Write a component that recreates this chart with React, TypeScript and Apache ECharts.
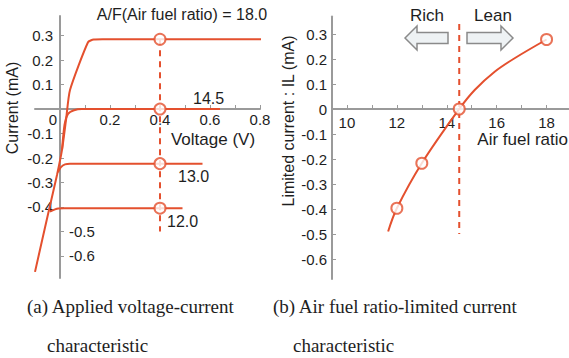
import React, { useEffect, useRef } from "react";
import * as echarts from "echarts";

// ---------- data ----------
// (a) applied voltage - current characteristic, one curve per A/F
const afValues = ["18.0", "14.5", "13.0", "12.0"];
const curveAF180: [number, number][] = [[-0.1, -0.665], [-0.045, -0.416], [-0.012, -0.269], [0.008, -0.167], [0.024, -0.045], [0.04, 0.078], [0.112, 0.273], [0.135, 0.284], [0.17, 0.285], [0.4, 0.285], [0.82, 0.285]];
const curveAF145: [number, number][] = [[0.008, -0.167], [0.018, -0.065], [0.032, -0.02], [0.056, -0.005], [0.088, 0], [0.4, 0], [0.64, 0]];
const curveAF130: [number, number][] = [[-0.008, -0.258], [0.004, -0.237], [0.02, -0.226], [0.04, -0.223], [0.4, -0.223], [0.57, -0.223]];
const curveAF120: [number, number][] = [[-0.04, -0.419], [-0.02, -0.41], [-0.007, -0.406], [0.016, -0.405], [0.4, -0.405], [0.49, -0.405]];
const appliedVoltage = 0.4;
const markerCurrents = [0.285, 0, -0.223, -0.405];
const voltDashRange = [0.285, -0.5];

// (b) air fuel ratio - limited current characteristic
const afCurve: [number, number][] = [[11.65, -0.49], [12, -0.397], [13, -0.217], [14.5, 0], [15.12, 0.076], [15.92, 0.149], [16.72, 0.203], [18, 0.278]];
const afMarkers: [number, number][] = [[12, -0.397], [13, -0.217], [14.5, 0], [18, 0.278]];
const stoichAF = 14.5;
const afDashRange = [0.34, -0.5];

// ticks and labels
const voltTicks = [0.1, 0.2, 0.3, 0.4, 0.5, 0.6, 0.7, 0.8];
const voltLabels = [0, 0.2, 0.4, 0.6, 0.8];
const currTicks = [0.3, 0.2, 0.1, -0.1, -0.2, -0.3, -0.4, -0.5, -0.6];
const currLabelsOut = [0.3, 0.2, 0.1, -0.1, -0.2, -0.3, -0.4];
const currLabelsIn = [-0.5, -0.6];
const afTicks = [10, 11, 12, 13, 14, 15, 16, 17, 18];
const afLabels = [10, 12, 14, 16, 18];
const currLabelsRight = [0.3, 0.2, 0.1, 0, -0.1, -0.2, -0.3, -0.4, -0.5, -0.6];

// ---------- styles ----------
const RED = "#e4502e";
const AXIS = "#9a9a9a";
const TXT = "#1e1e1e";
const SANS = "'Liberation Sans', Arial, sans-serif";
const SERIF = "'Liberation Serif', 'Times New Roman', serif";

const lineSeries = (data: [number, number][], xi: number, yi: number, smooth = 0.2) => ({
  type: "line",
  xAxisIndex: xi,
  yAxisIndex: yi,
  data,
  smooth,
  showSymbol: false,
  symbol: "none",
  clip: false,
  lineStyle: { color: RED, width: 2 },
  silent: true,
});

const markerSeries = (data: [number, number][], xi: number, yi: number) => ({
  type: "scatter",
  xAxisIndex: xi,
  yAxisIndex: yi,
  data,
  symbol: "circle",
  symbolSize: 11,
  itemStyle: { color: "#fff", borderColor: RED, borderWidth: 2 },
  z: 5,
  silent: true,
});

const dashSeries = (data: [number, number][], xi: number, yi: number) => ({
  type: "line",
  xAxisIndex: xi,
  yAxisIndex: yi,
  data,
  showSymbol: false,
  symbol: "none",
  clip: false,
  lineStyle: { color: RED, width: 2, type: [6, 5] },
  z: 1,
  silent: true,
});

const tickLabel = { color: TXT, fontSize: 15, fontFamily: SANS };

const text = (t: string, x: number, y: number, opts: any = {}) => ({
  type: "text",
  x,
  y,
  rotation: opts.rotation || 0,
  style: {
    text: t,
    fill: TXT,
    font: opts.font || `16px ${SANS}`,
    align: opts.align || "center",
    verticalAlign: "middle",
  },
  silent: true,
});

export default function App() {
  const ref = useRef<HTMLDivElement>(null);
  useEffect(() => {
    if (!ref.current) return;
    const chart = echarts.init(ref.current, undefined, { renderer: "svg" });

    const markersLeft: [number, number][] = markerCurrents.map((c) => [appliedVoltage, c]);

    const option: any = {
      animation: false,
      backgroundColor: "#fff",
      grid: [
        { left: 35, top: 16, width: 225, height: 262 },
        { left: 332, top: 16.5, width: 237.5, height: 262.5 },
      ],
      xAxis: [
        {
          type: "value",
          gridIndex: 0,
          min: -0.1,
          max: 0.8,
          position: "bottom",
          offset: -169,
          axisLine: { onZero: false, lineStyle: { color: AXIS, width: 2 } },
          axisTick: { show: true, inside: true, length: 4, customValues: voltTicks, lineStyle: { color: AXIS } },
          axisLabel: {
            ...tickLabel,
            margin: 3,
            customValues: voltLabels,
            formatter: (v: number) => (v === 0 ? "{z|0}" : String(v)),
            rich: { z: { ...tickLabel, padding: [0, 14, 0, 0] } },
          },
          splitLine: { show: false },
        },
        {
          type: "value",
          gridIndex: 1,
          min: 9.4,
          max: 18.9,
          position: "bottom",
          offset: -170,
          axisLine: { onZero: false, lineStyle: { color: AXIS, width: 2 } },
          axisTick: { show: true, inside: true, length: 4, customValues: afTicks, lineStyle: { color: AXIS } },
          axisLabel: { ...tickLabel, margin: 6, customValues: afLabels },
          splitLine: { show: false },
        },
      ],
      yAxis: [
        {
          type: "value",
          gridIndex: 0,
          min: -0.69,
          max: 0.38,
          position: "left",
          offset: -25,
          axisLine: { onZero: false, lineStyle: { color: AXIS, width: 2 } },
          axisTick: { show: true, inside: true, length: 4, customValues: currTicks, lineStyle: { color: AXIS } },
          axisLabel: { ...tickLabel, margin: 7, customValues: currLabelsOut },
          splitLine: { show: false },
        },
        {
          type: "value",
          gridIndex: 0,
          min: -0.69,
          max: 0.38,
          position: "left",
          offset: -25,
          axisLine: { show: false, onZero: false },
          axisTick: { show: false },
          axisLabel: { ...tickLabel, inside: true, margin: 9, customValues: currLabelsIn },
          splitLine: { show: false },
        },
        {
          type: "value",
          gridIndex: 1,
          min: -0.68,
          max: 0.37,
          position: "left",
          axisLine: { onZero: false, lineStyle: { color: AXIS, width: 2 } },
          axisTick: { show: true, inside: true, length: 4, customValues: currTicks, lineStyle: { color: AXIS } },
          axisLabel: { ...tickLabel, margin: 5, customValues: currLabelsRight },
          splitLine: { show: false },
        },
      ],
      series: [
        lineSeries(curveAF180, 0, 0),
        lineSeries(curveAF145, 0, 0),
        lineSeries(curveAF130, 0, 0),
        lineSeries(curveAF120, 0, 0),
        dashSeries([[appliedVoltage, voltDashRange[0]], [appliedVoltage, voltDashRange[1]]], 0, 0),
        markerSeries(markersLeft, 0, 0),
        lineSeries(afCurve, 1, 2, 0.35),
        dashSeries([[stoichAF, afDashRange[0]], [stoichAF, afDashRange[1]]], 1, 2),
        markerSeries(afMarkers, 1, 2),
      ],
      graphic: [
        text(`A/F(Air fuel ratio) = ${afValues[0]}`, 182, 14),
        text(afValues[1], 193, 98, { align: "left" }),
        text(afValues[2], 178, 176, { align: "left" }),
        text(afValues[3], 167, 221, { align: "left" }),
        text("Voltage (V)", 213, 139, { font: `17px ${SANS}` }),
        text("Current (mA)", 12, 108, { rotation: Math.PI / 2 }),
        text("Limited current : IL (mA)", 288, 121, { rotation: Math.PI / 2 }),
        text("Air fuel ratio", 568, 139, { align: "right", font: `17px ${SANS}` }),
        text("Rich", 427, 15, { font: `17px ${SANS}` }),
        text("Lean", 493, 15, { font: `17px ${SANS}` }),
        {
          type: "polygon",
          shape: { points: [[405, 38], [417, 26], [417, 32.5], [448, 32.5], [448, 43.5], [417, 43.5], [417, 50]] },
          style: { fill: "#eef2f4", stroke: "#8a8a8a", lineWidth: 1.5 },
          silent: true,
        },
        {
          type: "polygon",
          shape: { points: [[513, 38], [501, 26], [501, 32.5], [467, 32.5], [467, 43.5], [501, 43.5], [501, 50]] },
          style: { fill: "#eef2f4", stroke: "#8a8a8a", lineWidth: 1.5 },
          silent: true,
        },
        text("(a) Applied voltage-current", 27, 306, { align: "left", font: `19px ${SERIF}` }),
        text("characteristic", 47, 345, { align: "left", font: `19px ${SERIF}` }),
        text("(b) Air fuel ratio-limited current", 273, 306, { align: "left", font: `19px ${SERIF}` }),
        text("characteristic", 293, 345, { align: "left", font: `19px ${SERIF}` }),
      ],
    };
    chart.setOption(option);
    return () => chart.dispose();
  }, []);

  return (
    <div
      ref={ref}
      style={{ position: "fixed", left: 0, top: 0, width: 569, height: 358, background: "#fff" }}
    />
  );
}
